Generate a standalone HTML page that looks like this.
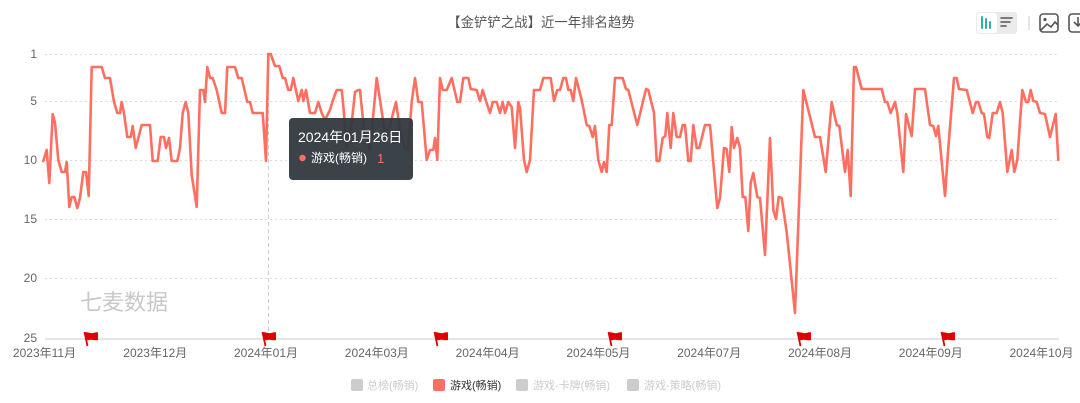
<!DOCTYPE html>
<html><head><meta charset="utf-8"><style>
html,body{margin:0;padding:0;background:#fff;}
svg{display:block;}
text{font-family:"Liberation Sans","Noto Sans CJK SC",sans-serif;}
</style></head><body>
<svg width="1080" height="403" viewBox="0 0 1080 403" xmlns="http://www.w3.org/2000/svg">
<rect width="1080" height="403" fill="#fff"/>
<!-- title -->
<text x="541" y="27" text-anchor="middle" font-size="13.4" fill="#555">【金铲铲之战】近一年排名趋势</text>
<!-- toolbar -->
<rect x="976" y="12" width="41" height="22" rx="3" fill="#ebebeb"/>
<rect x="977" y="13" width="20" height="20" rx="3" fill="#fff"/>
<g stroke="#2bb3a0" stroke-width="2" stroke-linecap="round">
<line x1="982" y1="17" x2="982" y2="28"/><line x1="986" y1="19" x2="986" y2="28"/><line x1="990" y1="22" x2="990" y2="28"/>
</g>
<g stroke="#555" stroke-width="1.6" stroke-linecap="round">
<line x1="1001" y1="18" x2="1012" y2="18"/><line x1="1001" y1="22" x2="1010" y2="22"/><line x1="1001" y1="26" x2="1006" y2="26"/>
</g>
<line x1="1029" y1="16" x2="1029" y2="30" stroke="#ccc" stroke-width="1"/>
<rect x="1040" y="14" width="18" height="18" rx="3" fill="none" stroke="#555" stroke-width="1.6"/>
<circle cx="1045" cy="19.5" r="1.6" fill="#555"/>
<polyline points="1041,30 1047,24 1051,27 1055,22 1058,25" fill="none" stroke="#555" stroke-width="1.6"/>
<rect x="1069" y="14" width="18" height="18" rx="3" fill="none" stroke="#555" stroke-width="1.6"/>
<line x1="1078" y1="17" x2="1078" y2="26" stroke="#555" stroke-width="1.6"/>
<polyline points="1074,22 1078,26 1082,22" fill="none" stroke="#555" stroke-width="1.6"/>
<!-- grid -->
<g stroke="#ddd" stroke-width="1" stroke-dasharray="2,3">
<line x1="45" y1="54.5" x2="1059" y2="54.5"/>
<line x1="45" y1="101.5" x2="1059" y2="101.5"/>
<line x1="45" y1="160.5" x2="1059" y2="160.5"/>
<line x1="45" y1="219.5" x2="1059" y2="219.5"/>
<line x1="45" y1="278.5" x2="1059" y2="278.5"/>
</g>
<line x1="45" y1="339" x2="1059" y2="339" stroke="#ccc" stroke-width="1"/>
<!-- y labels -->
<g font-size="12" fill="#666" text-anchor="end">
<text x="37" y="58">1</text>
<text x="37" y="105">5</text>
<text x="37" y="164">10</text>
<text x="37" y="223">15</text>
<text x="37" y="282">20</text>
<text x="37" y="342">25</text>
</g>
<!-- x labels -->
<g font-size="12" fill="#666" text-anchor="middle">
<text x="44.5" y="357">2023年11月</text>
<text x="155.3" y="357">2023年12月</text>
<text x="266" y="357">2024年01月</text>
<text x="376.8" y="357">2024年03月</text>
<text x="487.6" y="357">2024年04月</text>
<text x="598.4" y="357">2024年05月</text>
<text x="709.2" y="357">2024年07月</text>
<text x="820" y="357">2024年08月</text>
<text x="930.8" y="357">2024年09月</text>
<text x="1041.5" y="357">2024年10月</text>
</g>
<!-- watermark -->
<text x="80" y="310" font-size="22" fill="#c8c8c8">七麦数据</text>
<!-- crosshair -->
<line x1="268.5" y1="54" x2="268.5" y2="339" stroke="#ccc" stroke-width="1" stroke-dasharray="4,3"/>
<!-- series -->
<polyline fill="none" stroke="#ff6f61" stroke-width="2.6" stroke-linejoin="round" stroke-linecap="round" points="43.3,161 46.7,150 49.3,183 52.7,114 55,123 58.3,160 61.7,172 65,172 66.7,162 69.3,207 71.7,197 74.3,197 77.3,208 80,198 83.3,172 86,172 88.7,196 91.7,67 101.7,67 105,78 110,78 114,102 117.3,113 120,113 121.7,102 124,113 127.3,137 130.7,137 132.7,126 135.7,148 141.7,125 150,125 152.7,161 157.7,161 160.7,137 164,137 166,148 169,138 171.7,161 177.3,161 180,148 182.7,113 185.7,102 188.3,113 191.7,175 196.7,207 200,90 203.3,90 205,102 207.3,67 210,78 212.7,78 216.7,90 221.7,113 225,113 227.3,67 235,67 238.3,78 241.7,78 247.3,102 250,102 252.7,113 262.7,113 266,161 268.3,54 270.7,54 275,66 279.3,66 282.7,78 285,78 288.3,90 290.7,90 293.3,78 298.3,101 301.7,90 303.3,101 306,90 310,113 315,113 318.3,102 321.7,113 325,120 330,110 333,100 336.7,90 341.7,90 343,102 346.7,147 352,120 355,92 358.3,90 360,90 364,130 370,150 376.7,78 380,100 386,140 390,125 396,102 400,130 405,148 408,150 411.7,102 415,78 418.3,102 421.7,102 426.7,160 430,150 433.3,150 435,138 437.3,160 440,78 442.7,90 446.7,90 451.7,78 457.3,102 460,102 463.3,78 468.3,78 470.7,89 476.7,90 480,101 482.7,90 486,101 490,113 492.7,102 496.7,102 500,113 502.7,102 505,113 508.3,102 511.7,107 515,148 518.3,102 520,108 524,160 526.7,172 530,160 534,90 540,90 543.3,78 550.7,78 554,101 557.3,90 560,90 563.3,78 566,78 568.3,90 570.7,90 573.3,101 576,78 581.7,100 586.7,125 589.3,126 592.7,137 595,126 598.3,160 601.7,172 604,162 606.7,172 609.3,125 611.7,125 615,78 622.7,78 626,89 628.3,90 637.3,125 646,89 648.3,90 654,113 656.7,161 659.3,161 662.7,138 665.3,136 667.3,113 670.7,148 673.3,113 676.7,137 680,137 682.7,125 685,125 688.3,161 690.7,161 693.3,125 696.7,148 699.3,148 705,125 710,125 717.3,208 720,198 724,148 726.7,149 729.3,172 731.7,127 734,148 737.3,138 740,148 742.7,197 745.3,197 748.3,231 750.7,183 753.3,173 757.3,197 760,198 765,255 770,138 773.3,210 776,219 778.7,197 781.7,198 786.7,232 795,313 803.3,90 815,137 820,137 825.7,172 831.7,102 836.7,125 839.3,126 845,172 847.7,150 850.7,196 854,67 856,67 861.7,89 881.7,89 885,102 887.3,102 890.7,113 895,102 897.3,113 903.3,172 906,114 911.7,136 915,89 925,89 930,125 933.3,126 936,136 938.3,126 945,196 948.3,148 954,78 956.7,78 959,89 966.7,90 972.7,113 976,102 978.3,102 981.7,113 984,114 987.3,137 989.3,138 992.7,113 996.7,113 1000,102 1002.7,113 1007.3,172 1011.7,150 1014.3,172 1017.3,160 1022.3,90 1026,102 1028.3,102 1030.7,90 1033.3,101 1036.7,102 1040,113 1045,114 1050,137 1055.7,114 1058.3,160"/>
<!-- flags -->
<g fill="#e00000" stroke="none">
<g transform="translate(84,332)"><path d="M0,1 C3,-1 6,2 9,1 C11,0.5 13,0 14,0.5 L14,8 C11,9 8,7 5,8 C4,8.5 3,8 2,8 Z"/><line x1="0.5" y1="0" x2="3.5" y2="14" stroke="#e00000" stroke-width="1.8"/></g>
<g transform="translate(262,332)"><path d="M0,1 C3,-1 6,2 9,1 C11,0.5 13,0 14,0.5 L14,8 C11,9 8,7 5,8 C4,8.5 3,8 2,8 Z"/><line x1="0.5" y1="0" x2="3.5" y2="14" stroke="#e00000" stroke-width="1.8"/></g>
<g transform="translate(434,332)"><path d="M0,1 C3,-1 6,2 9,1 C11,0.5 13,0 14,0.5 L14,8 C11,9 8,7 5,8 C4,8.5 3,8 2,8 Z"/><line x1="0.5" y1="0" x2="3.5" y2="14" stroke="#e00000" stroke-width="1.8"/></g>
<g transform="translate(608,332)"><path d="M0,1 C3,-1 6,2 9,1 C11,0.5 13,0 14,0.5 L14,8 C11,9 8,7 5,8 C4,8.5 3,8 2,8 Z"/><line x1="0.5" y1="0" x2="3.5" y2="14" stroke="#e00000" stroke-width="1.8"/></g>
<g transform="translate(797,332)"><path d="M0,1 C3,-1 6,2 9,1 C11,0.5 13,0 14,0.5 L14,8 C11,9 8,7 5,8 C4,8.5 3,8 2,8 Z"/><line x1="0.5" y1="0" x2="3.5" y2="14" stroke="#e00000" stroke-width="1.8"/></g>
<g transform="translate(941,332)"><path d="M0,1 C3,-1 6,2 9,1 C11,0.5 13,0 14,0.5 L14,8 C11,9 8,7 5,8 C4,8.5 3,8 2,8 Z"/><line x1="0.5" y1="0" x2="3.5" y2="14" stroke="#e00000" stroke-width="1.8"/></g>
</g>
<!-- tooltip -->
<rect x="289" y="118" width="124" height="62" rx="4" fill="#2f373e" fill-opacity="0.94"/>
<text x="298" y="142" font-size="14" fill="#fff">2024年01月26日</text>
<circle cx="302.5" cy="158" r="3.2" fill="#ff6f61"/>
<text x="311" y="162" font-size="12" fill="#fff">游戏(畅销)</text>
<text x="377" y="163" font-size="13" fill="#ff6f61">1</text>
<!-- legend -->
<rect x="351" y="379" width="12" height="12" rx="2" fill="#ccc"/>
<text x="367" y="389" font-size="11" fill="#ccc">总榜(畅销)</text>
<rect x="433" y="379" width="12" height="12" rx="2" fill="#ff6f61"/>
<text x="450" y="389" font-size="11" fill="#333">游戏(畅销)</text>
<rect x="516" y="379" width="12" height="12" rx="2" fill="#ccc"/>
<text x="533" y="389" font-size="11" fill="#ccc">游戏-卡牌(畅销)</text>
<rect x="627" y="379" width="12" height="12" rx="2" fill="#ccc"/>
<text x="644" y="389" font-size="11" fill="#ccc">游戏-策略(畅销)</text>
</svg>
</body></html>
